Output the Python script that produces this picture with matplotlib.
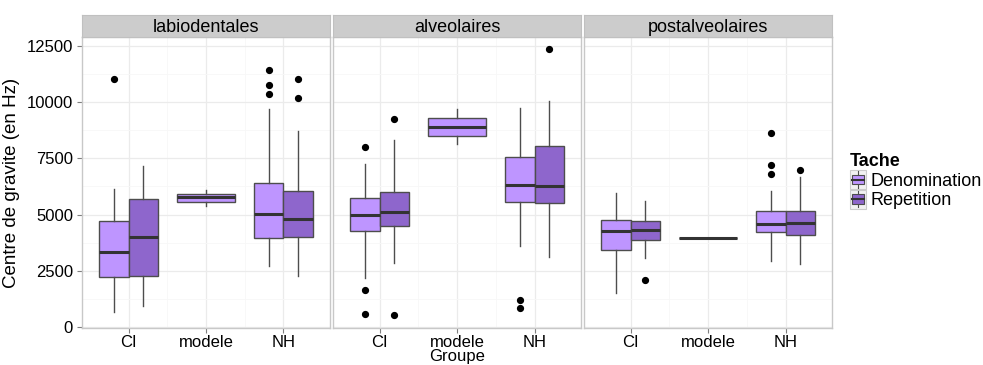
import matplotlib
matplotlib.use("Agg")
import matplotlib.pyplot as plt
from matplotlib.patches import Rectangle
from matplotlib.lines import Line2D
from matplotlib.legend_handler import HandlerBase

# panels and groups
panels = ["labiodentales", "alveolaires", "postalveolaires"]
groups = ["CI", "modele", "NH"]
taches = ["Denomination", "Repetition"]
colors = {"Denomination": "#BE95FF", "Repetition": "#8E66CC"}

# box stats: (whislo, q1, med, q3, whishi, [fliers])
labio_ci_den = (650, 2230, 3355, 4720, 6150, [11045])
labio_ci_rep = (950, 2290, 4010, 5670, 7155, [])
labio_modele = (5375, 5550, 5760, 5925, 6090, [])
labio_nh_den = (2730, 3965, 5005, 6415, 9710, [11415, 10750, 10360])
labio_nh_rep = (2285, 3995, 4825, 6055, 8715, [11030, 10200])

alv_ci_den = (2180, 4275, 4975, 5715, 7230, [8000, 1650, 595])
alv_ci_rep = (2835, 4485, 5105, 6025, 8330, [9250, 535])
alv_modele = (8120, 8505, 8905, 9295, 9680, [])
alv_nh_den = (3595, 5565, 6295, 7555, 9755, [1215, 830])
alv_nh_rep = (3120, 5525, 6250, 8060, 10050, [12335])

post_ci_den = (1515, 3415, 4260, 4750, 5940, [])
post_ci_rep = (3060, 3890, 4320, 4720, 5595, [2095])
post_modele = (3950, 3950, 3950, 3950, 3950, [])
post_nh_den = (2925, 4215, 4570, 5165, 6040, [8610, 7185, 6785])
post_nh_rep = (2805, 4110, 4615, 5180, 6665, [6990])

data = {
    "labiodentales": [("CI", "Denomination", labio_ci_den), ("CI", "Repetition", labio_ci_rep),
                      ("modele", "Denomination", labio_modele),
                      ("NH", "Denomination", labio_nh_den), ("NH", "Repetition", labio_nh_rep)],
    "alveolaires": [("CI", "Denomination", alv_ci_den), ("CI", "Repetition", alv_ci_rep),
                    ("modele", "Denomination", alv_modele),
                    ("NH", "Denomination", alv_nh_den), ("NH", "Repetition", alv_nh_rep)],
    "postalveolaires": [("CI", "Denomination", post_ci_den), ("CI", "Repetition", post_ci_rep),
                        ("modele", "Denomination", post_modele),
                        ("NH", "Denomination", post_nh_den), ("NH", "Repetition", post_nh_rep)],
}

yticks = [0, 2500, 5000, 7500, 10000, 12500]

W, H = 983, 365
fig = plt.figure(figsize=(W / 100, H / 100), dpi=100)
plt.rcParams["font.family"] = "Liberation Sans"

edge = "#4D4D4D"
lefts = [82, 333, 584]
pw = 248
top, bottom = 37, 328

for i, name in enumerate(panels):
    ax = fig.add_axes([lefts[i] / W, 1 - bottom / H, pw / W, (bottom - top) / H])

    stats, pos, wid, fills = [], [], [], []
    for grp, tache, (lo, q1, med, q3, hi, fl) in data[name]:
        x = groups.index(grp) + 1
        if grp == "modele":
            pos.append(x)
            wid.append(0.75)
        else:
            pos.append(x + (-0.1875 if tache == "Denomination" else 0.1875))
            wid.append(0.375)
        stats.append(dict(whislo=lo, q1=q1, med=med, q3=q3, whishi=hi, fliers=fl))
        fills.append(colors[tache])

    bp = ax.bxp(stats, positions=pos, widths=wid, patch_artist=True, showcaps=False,
                manage_ticks=False,
                boxprops=dict(edgecolor=edge, linewidth=1.0),
                medianprops=dict(color="#333333", linewidth=2.2, solid_capstyle="butt"),
                whiskerprops=dict(color=edge, linewidth=1.0),
                flierprops=dict(marker="o", markerfacecolor="black", markeredgecolor="black",
                                markersize=4.2))
    for patch, c in zip(bp["boxes"], fills):
        patch.set_facecolor(c)

    ax.set_xlim(0.4, 3.6)
    ax.set_ylim(-40, 12890)
    ax.set_yticks(yticks)
    ax.set_yticks([1250, 3750, 6250, 8750, 11250], minor=True)
    ax.set_xticks([1, 2, 3])
    ax.set_xticks([1.5, 2.5], minor=True)
    ax.set_xticklabels(groups)
    ax.grid(True, which="major", color="#EBEBEB", lw=0.9)
    ax.grid(True, which="minor", color="#F7F7F7", lw=0.6)
    ax.set_axisbelow(True)
    for s in ax.spines.values():
        s.set_color("#C8C8C8")
        s.set_linewidth(1)
    ax.tick_params(which="minor", length=0)
    ax.tick_params(which="major", length=3.5, color="#7F7F7F", labelsize=12,
                   labelcolor="black", pad=3)
    ax.tick_params(axis="x", pad=1.5)
    if i > 0:
        ax.tick_params(axis="y", length=0, labelleft=False)
    else:
        ax.set_ylabel("Centre de gravite (en Hz)", fontsize=13.5, labelpad=5)

    # strip
    sax = fig.add_axes([lefts[i] / W, 1 - top / H, pw / W, 22 / H])
    sax.set_facecolor("#CCCCCC")
    sax.set_xticks([])
    sax.set_yticks([])
    for s in sax.spines.values():
        s.set_color("#C0C0C0")
    sax.text(0.5, 0.45, name, ha="center", va="center", fontsize=13, transform=sax.transAxes)

# x title sits tight under the tick labels, as in the reference
fig.text(((lefts[1] + pw / 2)) / W, 1 - 361.5 / H, "Groupe", ha="center", va="baseline", fontsize=12)


class BoxHandler(HandlerBase):
    def create_artists(self, legend, orig_handle, xdescent, ydescent, width, height, fontsize, trans):
        c = orig_handle.get_facecolor()
        x0, y0 = -xdescent, -ydescent
        bg = Rectangle((x0, y0 - 1), width, height + 2, facecolor="#F2F2F2", edgecolor="#CCCCCC",
                       lw=0.8, transform=trans)
        box = Rectangle((x0 + width * 0.12, y0 + height * 0.2), width * 0.76, height * 0.6,
                        facecolor=c, edgecolor=edge, lw=0.8, transform=trans)
        med = Line2D([x0 + width * 0.12, x0 + width * 0.88], [y0 + height / 2] * 2,
                     color="#333333", lw=1.5, transform=trans)
        wl = Line2D([x0 + width / 2] * 2, [y0, y0 + height], color=edge, lw=0.8, transform=trans)
        return [bg, wl, box, med]


handles = [Rectangle((0, 0), 1, 1, facecolor=colors[t]) for t in taches]
leg = fig.legend(handles, taches, loc="upper left", bbox_to_anchor=(850 / W, 1 - 153 / H),
                 handler_map={Rectangle: BoxHandler()}, frameon=False, fontsize=13,
                 title="Tache", title_fontproperties={"weight": "bold", "size": 13},
                 handlelength=0.9, handleheight=1.0, handletextpad=0.25, labelspacing=0.08,
                 borderpad=0, borderaxespad=0)
leg._legend_box.align = "left"

fig.savefig("out.png", dpi=100)
